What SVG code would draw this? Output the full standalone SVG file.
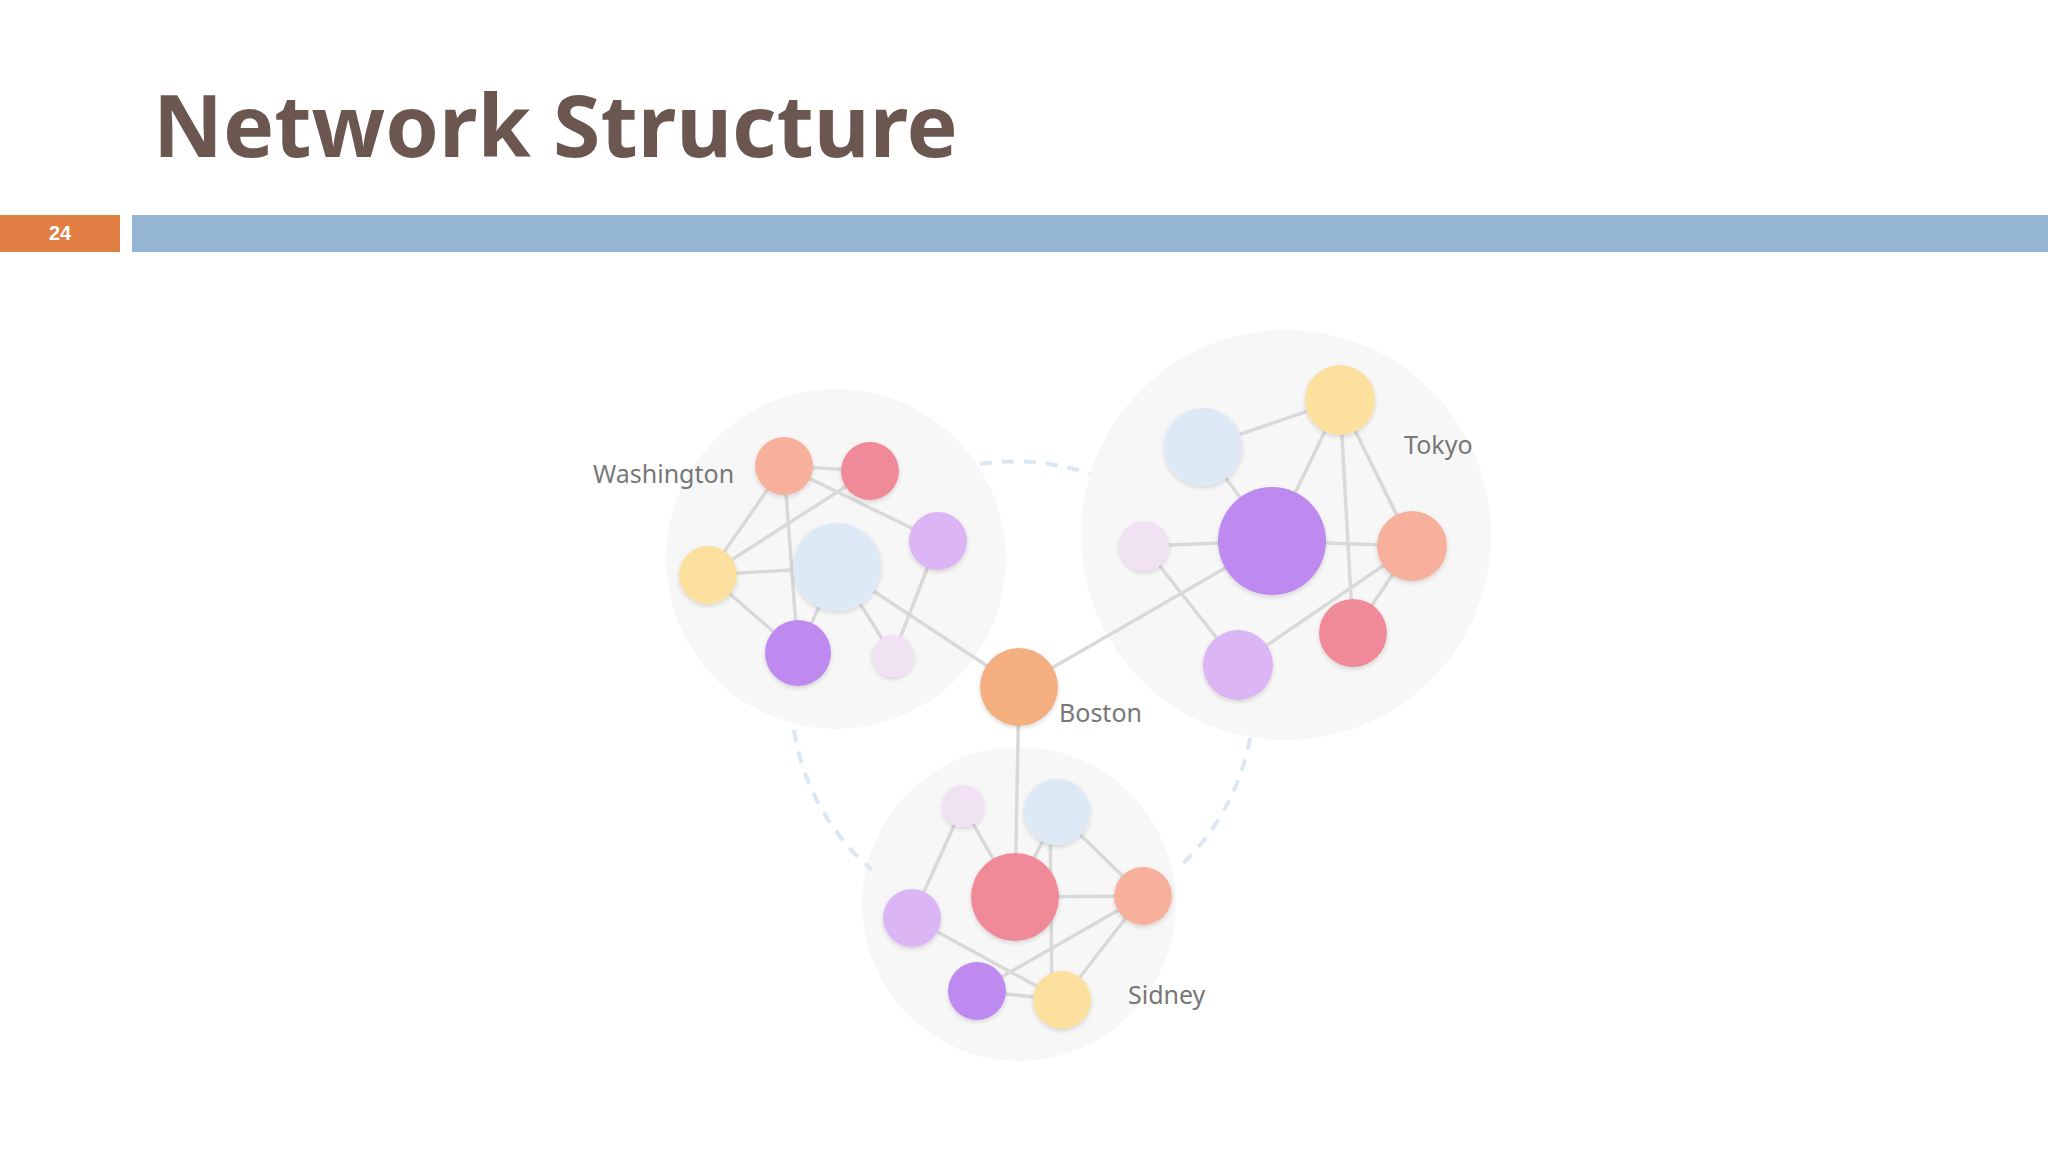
<svg xmlns="http://www.w3.org/2000/svg" width="2048" height="1152" viewBox="0 0 2048 1152">
<style>
.t{font-family:"Noto Sans","Liberation Sans",sans-serif;font-weight:bold;fill:#6b5750}
.lbl{font-family:"Noto Sans","Liberation Sans",sans-serif;font-size:25px;fill:#777777}
.e{stroke:#d9d9d9;stroke-width:3.5;fill:none}
.bg{fill:#f7f7f7}
.d{stroke:#dbe7f2;stroke-width:4;fill:none;stroke-dasharray:12 10}
.sal{fill:#f6b09c}.red{fill:#f08a98}.lav{fill:#dbb5f4}.yel{fill:#fbe09e}.lb{fill:#dde9f5}.pur{fill:#bf8af0}.pp{fill:#f1e2f3}.or{fill:#f3af80}
</style>
<defs><filter id="sh" x="-30%" y="-30%" width="160%" height="160%"><feDropShadow dx="0" dy="2" stdDeviation="2" flood-color="#000" flood-opacity="0.15"/></filter></defs>
<rect width="2048" height="1152" fill="#ffffff"/>
<text class="t" x="153" y="157" font-size="86">Network Structure</text>
<rect x="0" y="215" width="120" height="37" fill="#e07e43"/>
<text x="60" y="240" text-anchor="middle" font-family="Liberation Sans,sans-serif" font-weight="bold" font-size="20" fill="#fff">24</text>
<rect x="132" y="215" width="1916" height="37" fill="#94b6d2"/>
<g id="backgrounds">
<circle class="bg" cx="836" cy="559" r="170"/>
<circle class="bg" cx="1286" cy="535" r="205"/>
<circle class="bg" cx="1019" cy="904" r="157"/>
</g>
<g id="connectors">
<path class="d" d="M980 464 A231 231 0 0 1 1090 474"/>
<path class="d" d="M794 730 A231 231 0 0 0 872 870"/>
<path class="d" d="M1250 738 A231 231 0 0 1 1178 868"/>
<line class="e" x1="784" y1="466" x2="870" y2="471"/>
<line class="e" x1="784" y1="466" x2="708" y2="575"/>
<line class="e" x1="784" y1="466" x2="798" y2="653"/>
<line class="e" x1="784" y1="466" x2="938" y2="541"/>
<line class="e" x1="870" y1="471" x2="708" y2="575"/>
<line class="e" x1="708" y1="575" x2="837" y2="567"/>
<line class="e" x1="708" y1="575" x2="798" y2="653"/>
<line class="e" x1="837" y1="567" x2="798" y2="653"/>
<line class="e" x1="837" y1="567" x2="893" y2="656"/>
<line class="e" x1="893" y1="656" x2="938" y2="541"/>
<line class="e" x1="837" y1="567" x2="1019" y2="687"/>
<line class="e" x1="1019" y1="687" x2="1272" y2="541"/>
<line class="e" x1="1019" y1="687" x2="1015" y2="897"/>
<line class="e" x1="1203" y1="447" x2="1340" y2="400"/>
<line class="e" x1="1203" y1="447" x2="1272" y2="541"/>
<line class="e" x1="1340" y1="400" x2="1272" y2="541"/>
<line class="e" x1="1340" y1="400" x2="1353" y2="633"/>
<line class="e" x1="1340" y1="400" x2="1412" y2="546"/>
<line class="e" x1="1272" y1="541" x2="1412" y2="546"/>
<line class="e" x1="1144" y1="546" x2="1272" y2="541"/>
<line class="e" x1="1144" y1="546" x2="1238" y2="665"/>
<line class="e" x1="1238" y1="665" x2="1412" y2="546"/>
<line class="e" x1="1353" y1="633" x2="1412" y2="546"/>
<line class="e" x1="963" y1="806" x2="1015" y2="897"/>
<line class="e" x1="963" y1="806" x2="912" y2="918"/>
<line class="e" x1="1057" y1="812" x2="1015" y2="897"/>
<line class="e" x1="1057" y1="812" x2="1143" y2="896"/>
<line class="e" x1="1050" y1="812" x2="1052" y2="1000"/>
<line class="e" x1="1015" y1="897" x2="1143" y2="896"/>
<line class="e" x1="912" y1="918" x2="1062" y2="1000"/>
<line class="e" x1="1143" y1="896" x2="977" y2="991"/>
<line class="e" x1="1143" y1="896" x2="1062" y2="1000"/>
<line class="e" x1="977" y1="991" x2="1062" y2="1000"/>
</g>
<g filter="url(#sh)">
<g id="w1"><circle class="sal" cx="784" cy="466" r="29"/></g>
<g id="w2"><circle class="red" cx="870" cy="471" r="29"/></g>
<g id="w3"><circle class="lav" cx="938" cy="541" r="29"/></g>
<g id="w4"><circle class="yel" cx="708" cy="575" r="29"/></g>
<g id="w5"><circle class="lb" cx="837" cy="567" r="44"/></g>
<g id="w6"><circle class="pur" cx="798" cy="653" r="33"/></g>
<g id="w7"><circle class="pp" cx="893" cy="656" r="21"/></g>
<g id="boston"><circle class="or" cx="1019" cy="687" r="39"/></g>
<g id="t1"><circle class="lb" cx="1203" cy="447" r="39"/></g>
<g id="t2"><circle class="yel" cx="1340" cy="400" r="35"/></g>
<g id="t3"><circle class="pur" cx="1272" cy="541" r="54"/></g>
<g id="t4"><circle class="pp" cx="1144" cy="546" r="25"/></g>
<g id="t5"><circle class="sal" cx="1412" cy="546" r="35"/></g>
<g id="t6"><circle class="red" cx="1353" cy="633" r="34"/></g>
<g id="t7"><circle class="lav" cx="1238" cy="665" r="35"/></g>
<g id="s1"><circle class="pp" cx="963" cy="806" r="21"/></g>
<g id="s2"><circle class="lb" cx="1057" cy="812" r="33"/></g>
<g id="s3"><circle class="red" cx="1015" cy="897" r="44"/></g>
<g id="s4"><circle class="sal" cx="1143" cy="896" r="29"/></g>
<g id="s5"><circle class="lav" cx="912" cy="918" r="29"/></g>
<g id="s6"><circle class="pur" cx="977" cy="991" r="29"/></g>
<g id="s7"><circle class="yel" cx="1062" cy="1000" r="29"/></g>
</g>
<g id="labels">
<text class="lbl" x="593" y="483">Washington</text>
<text class="lbl" x="1059" y="722">Boston</text>
<text class="lbl" x="1404" y="454">Tokyo</text>
<text class="lbl" x="1128" y="1004">Sidney</text>
</g>
</svg>
